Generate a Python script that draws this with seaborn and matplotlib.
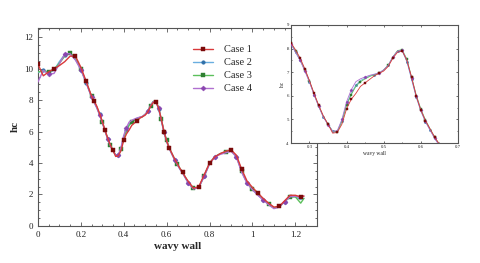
import matplotlib
matplotlib.use('Agg')
import matplotlib.pyplot as plt
from matplotlib.ticker import MultipleLocator
import numpy as np
import pandas as pd
import seaborn as sns

# position along the wavy wall (finer steps where the inset zooms in)
x_wall = [0.000, 0.025, 0.050, 0.075, 0.100, 0.125, 0.150, 0.175, 0.200, 0.225,
          0.2500, 0.2625, 0.2750, 0.2875, 0.3000, 0.3125, 0.3250, 0.3375, 0.3500,
          0.3625, 0.3750, 0.3875, 0.4000, 0.4125, 0.4250, 0.4375, 0.4500, 0.4625,
          0.4750, 0.4875, 0.5000, 0.5125, 0.5250, 0.5375, 0.5500, 0.5625, 0.5750,
          0.5875, 0.6000, 0.6125, 0.6250, 0.6375, 0.6500, 0.6625, 0.6750, 0.6875,
          0.7000,
          0.725, 0.750, 0.775, 0.800, 0.825, 0.850, 0.875, 0.900, 0.925, 0.950,
          0.975, 1.000, 1.025, 1.050, 1.075, 1.100, 1.125, 1.150, 1.175, 1.200,
          1.225, 1.240]

hc_case1 = [10.30, 9.55, 9.80, 10.00, 10.20, 10.45, 10.80, 10.80, 10.10, 9.20,
            8.25, 7.95, 7.60, 7.15, 6.65, 6.10, 5.60, 5.15, 4.80,
            4.42, 4.45, 4.80, 5.45, 5.85, 6.10, 6.40, 6.55, 6.70,
            6.85, 6.95, 7.05, 7.25, 7.60, 7.85, 7.90, 7.50, 6.80,
            6.00, 5.40, 4.95, 4.60, 4.25, 3.95, 3.65, 3.40, 3.10,
            2.85,
            2.40, 2.50, 3.25, 4.00, 4.40, 4.60, 4.75, 4.85, 4.50, 3.60,
            2.85, 2.45, 2.10, 1.75, 1.45, 1.20, 1.25, 1.60, 1.95, 1.95,
            1.85, 1.90]
hc_case2 = [9.75, 9.90, 9.75, 9.90, 10.45, 10.90, 11.00, 10.60, 9.95, 9.10,
            8.20, 7.85, 7.50, 7.10, 6.60, 6.05, 5.55, 5.10, 4.80,
            4.50, 4.50, 4.95, 5.65, 6.10, 6.45, 6.65, 6.75, 6.85,
            6.90, 6.95, 7.10, 7.30, 7.65, 7.90, 7.90, 7.45, 6.70,
            5.95, 5.35, 4.90, 4.55, 4.20, 3.90, 3.60, 3.35, 3.05,
            2.75,
            2.35, 2.45, 3.15, 3.95, 4.40, 4.60, 4.70, 4.80, 4.40, 3.45,
            2.75, 2.35, 2.00, 1.65, 1.40, 1.15, 1.20, 1.55, 1.85, 1.85,
            1.68, 1.75]
hc_case3 = [9.80, 9.85, 9.80, 9.95, 10.35, 10.80, 11.00, 10.70, 10.00, 9.15,
            8.25, 7.90, 7.55, 7.10, 6.62, 6.08, 5.58, 5.12, 4.80,
            4.50, 4.48, 4.90, 5.60, 6.05, 6.40, 6.60, 6.72, 6.82,
            6.90, 6.95, 7.10, 7.30, 7.65, 7.92, 7.95, 7.55, 6.80,
            6.05, 5.45, 4.98, 4.60, 4.25, 3.95, 3.65, 3.40, 3.10,
            2.80,
            2.40, 2.45, 3.20, 4.00, 4.40, 4.60, 4.70, 4.80, 4.45, 3.50,
            2.75, 2.35, 2.00, 1.70, 1.40, 1.15, 1.20, 1.55, 1.85, 1.85,
            1.45, 1.75]
hc_case4 = [9.15, 9.90, 9.65, 9.70, 10.30, 10.95, 10.95, 10.55, 9.95, 9.10,
            8.20, 7.85, 7.50, 7.05, 6.58, 6.05, 5.55, 5.10, 4.78,
            4.50, 4.52, 5.00, 5.75, 6.25, 6.60, 6.72, 6.80, 6.87,
            6.92, 6.97, 7.10, 7.30, 7.65, 7.90, 7.92, 7.50, 6.75,
            6.00, 5.40, 4.92, 4.55, 4.20, 3.90, 3.60, 3.35, 3.05,
            2.75,
            2.35, 2.45, 3.15, 3.95, 4.40, 4.55, 4.65, 4.75, 4.40, 3.40,
            2.70, 2.30, 1.95, 1.65, 1.35, 1.10, 1.20, 1.55, 1.85, 1.90,
            1.80, 1.90]

case_names = ['Case 1', 'Case 2', 'Case 3', 'Case 4']
line_colors = ['#d9393b', '#6aaee0', '#5cc05c', '#b070d0']
mark_colors = ['#7a0a0a', '#2f6fa8', '#2f7f32', '#8a45b0']
mark_shapes = ['s', 'o', 's', 'D']
mark_offset = [0.0, 0.02, 0.035, 0.05]
z_order = [4, 3, 3, 3]

df = pd.DataFrame({
    'x': x_wall * 4,
    'hc': hc_case1 + hc_case2 + hc_case3 + hc_case4,
    'case': np.repeat(case_names, len(x_wall)),
})

sns.set_theme(style='ticks')
plt.rcParams['font.family'] = ['Liberation Serif', 'DejaVu Serif']
plt.rcParams['xtick.direction'] = 'in'
plt.rcParams['ytick.direction'] = 'in'


def draw_cases(ax, lw, ms, step, with_label):
    for i, name in enumerate(case_names):
        sns.lineplot(data=df[df['case'] == name], x='x', y='hc', ax=ax,
                     color=line_colors[i], lw=lw, marker=mark_shapes[i],
                     markersize=ms, markerfacecolor=mark_colors[i],
                     markeredgecolor=mark_colors[i], markeredgewidth=0.3,
                     markevery=(mark_offset[i], step), zorder=z_order[i],
                     label=name if with_label else None, legend=False)


def style_axes(ax, fs):
    for sp in ax.spines.values():
        sp.set_color('#555555')
        sp.set_linewidth(0.8)
    ax.tick_params(which='both', top=True, right=True, colors='#555555',
                   labelcolor='#222222', labelsize=fs, width=0.6)
    ax.tick_params(which='major', length=3)
    ax.tick_params(which='minor', length=1.5)


fig = plt.figure(figsize=(4.8, 2.63), dpi=100)

ax = fig.add_axes([0.079, 0.141, 0.581, 0.753])
draw_cases(ax, 1.0, 2.6, 0.075, True)
ax.set_xlim(0, 1.3)
ax.set_ylim(0, 12.6)
ax.xaxis.set_minor_locator(MultipleLocator(0.05))
ax.yaxis.set_major_locator(MultipleLocator(2))
ax.yaxis.set_minor_locator(MultipleLocator(0.5))
ax.set_xticks([0, 0.2, 0.4, 0.6, 0.8, 1.0, 1.2], ['0', '0.2', '0.4', '0.6', '0.8', '1', '1.2'])
ax.set_xlabel('wavy wall', fontsize=8, fontweight='bold', labelpad=2)
ax.set_ylabel('hc', fontsize=8, fontweight='bold', labelpad=3)
style_axes(ax, 6.5)
ax.legend(loc='upper left', bbox_to_anchor=(0.53, 0.95), frameon=False,
          fontsize=7.5, handlelength=1.9, handletextpad=1.1,
          labelspacing=0.35, borderpad=0.2)

inset = fig.add_axes([0.606, 0.456, 0.348, 0.449])
inset.set_facecolor('white')
draw_cases(inset, 0.6, 1.6, 0.09, False)
inset.set_xlim(0.25, 0.7)
inset.set_ylim(4, 9)
inset.set_xticks([0.3, 0.4, 0.5, 0.6, 0.7])
inset.set_yticks([4, 5, 6, 7, 8, 9])
inset.xaxis.set_minor_locator(MultipleLocator(0.05))
inset.yaxis.set_minor_locator(MultipleLocator(0.5))
inset.set_xlabel('wavy wall', fontsize=4, labelpad=1)
inset.set_ylabel('hc', fontsize=4, labelpad=1)
style_axes(inset, 3.5)
inset.tick_params(which='major', length=1.5, pad=1.5)
inset.tick_params(which='minor', length=0.8)

fig.savefig('out.png', dpi=100)
